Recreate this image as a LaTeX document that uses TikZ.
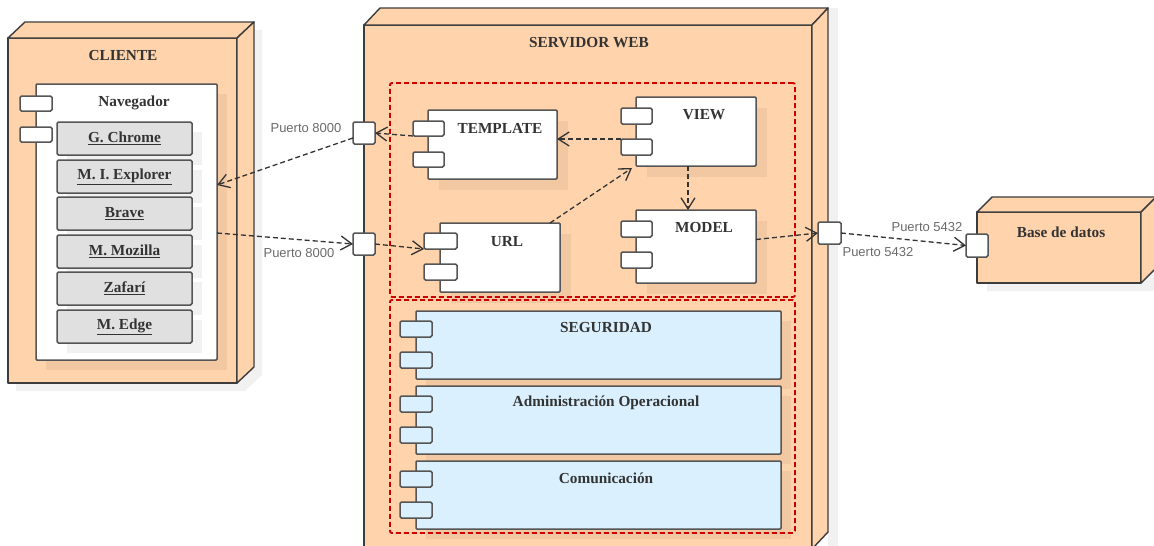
\documentclass[tikz,border=0pt]{standalone}
\usepackage{fontspec}
\setmainfont{Liberation Serif}
\newfontfamily\portfont{Liberation Sans}
\usetikzlibrary{arrows.meta,fit,calc}
\definecolor{peach}{HTML}{FFD4AC}
\definecolor{lblue}{HTML}{DAF0FE}
\definecolor{bgray}{HTML}{E0E0E0}
\definecolor{edgec}{HTML}{3C3C3C}
\definecolor{compedge}{HTML}{555555}
\definecolor{redd}{HTML}{CC0000}
\definecolor{txt}{HTML}{333333}
\definecolor{ptxt}{HTML}{6A6A6A}
\definecolor{connc}{HTML}{333333}
\tikzset{
  nodebox/.style={draw=edgec, line width=1.4pt, fill=peach, inner sep=0pt, outer sep=0pt, line join=round},
  facebox/.style={draw=edgec, line width=1.4pt, fill=peach, line join=round},
  comp/.style={draw=compedge, line width=1.5pt, fill=white, rounded corners=1pt, inner sep=0pt, outer sep=0pt},
  bcomp/.style={comp, fill=lblue},
  browser/.style={draw=compedge, line width=1.5pt, fill=bgray, rounded corners=1.5pt, inner sep=0pt, outer sep=0pt},
  portbox/.style={draw=compedge, line width=1.5pt, fill=white, rounded corners=1.5pt, inner sep=0pt, outer sep=0pt},
  redbox/.style={draw=redd, line width=1.9pt, dash pattern=on 5pt off 3pt, rounded corners=2pt, inner sep=0pt, outer sep=0pt},
  shade/.style={fill=black, fill opacity=0.055, draw=none},
  title/.style={text=txt, font=\fontsize{15.3}{18}\selectfont\bfseries, inner sep=0pt},
  blabel/.style={text=txt, font=\fontsize{15.3}{18}\selectfont\bfseries, inner sep=0pt},
  plabel/.style={text=ptxt, font=\portfont\fontsize{13}{15}\selectfont, inner sep=0pt},
  conn/.style={draw=connc, line width=1.3pt, dash pattern=on 5pt off 3pt, -{Straight Barb[length=11pt,width=14pt]}},
}
\begin{document}
\begin{tikzpicture}[x=1pt,y=-1pt]
\useasboundingbox (0,0) rectangle (1154,546);

% ================= CLIENTE =================
\fill[shade] (16,46) -- (33,30) -- (262,30) -- (262,375) -- (245,391) -- (16,391) -- cycle;
\node[nodebox, fit={(8,38)(237,383)}] (cliente) {};
\filldraw[facebox] (cliente.north west) -- ++(17,-16) -- ($(cliente.north east)+(17,-16)$) -- (cliente.north east) -- cycle;
\filldraw[facebox] (cliente.north east) -- ++(17,-16) -- ($(cliente.south east)+(17,-16)$) -- (cliente.south east) -- cycle;
\node[title] (clientet) at (123,56) {CLIENTE};

% Navegador component
\fill[shade] (46,94) rectangle (227,370);
\node[comp, fit={(36,84)(217,360)}] (nav) {};
\node[portbox, fit={(20,96)(52,111)}] (navp1) {};
\node[portbox, fit={(20,127)(52,142)}] (navp2) {};
\node[blabel] (navt) at (134,103) {Navegador};

\foreach \y/\nm/\lab in {122/b1/G. Chrome,160/b2/M. I. Explorer,197/b3/Brave,235/b4/M. Mozilla,272/b5/Zafarí,310/b6/M. Edge}{
  \fill[shade] (67,\y+10) rectangle (202,\y+43);
  \node[browser, fit={(57,\y)(192,\y+33)}] (\nm) {};
  \node[blabel] at (\nm.center) {\underline{\lab}};
}

% ================= SERVIDOR WEB =================
\fill[shade] (828,8) rectangle (838,546);
\node[nodebox, fit={(364,25)(812,549)}] (serv) {};
\filldraw[facebox] (serv.north west) -- ++(16,-17) -- ($(serv.north east)+(16,-17)$) -- (serv.north east) -- cycle;
\filldraw[facebox] (serv.north east) -- ++(16,-17) -- ($(serv.south east)+(16,-17)$) -- (serv.south east) -- cycle;
\node[title] (servt) at (589,43) {SERVIDOR WEB};

% TEMPLATE
\fill[shade] (439,121) rectangle (568,190);
\node[comp, fit={(428,110)(557,179)}] (template) {};
\node[portbox, fit={(413,121)(444,136)}] (tp1) {};
\node[portbox, fit={(413,152)(444,167)}] (tp2) {};
\node[blabel] (templatet) at (500,128) {TEMPLATE};

% URL
\fill[shade] (451,234) rectangle (571,303);
\node[comp, fit={(440,223)(560,292)}] (url) {};
\node[portbox, fit={(424,233)(457,249)}] (up1) {};
\node[portbox, fit={(424,264)(457,280)}] (up2) {};
\node[blabel] (urlt) at (507,242) {URL};

% VIEW
\fill[shade] (647,108) rectangle (767,177);
\node[comp, fit={(636,97)(756,166)}] (view) {};
\node[portbox, fit={(621,108)(652,124)}] (vp1) {};
\node[portbox, fit={(621,139)(652,155)}] (vp2) {};
\node[blabel] (viewt) at (704,115) {VIEW};

% MODEL
\fill[shade] (647,221) rectangle (767,294);
\node[comp, fit={(636,210)(756,283)}] (model) {};
\node[portbox, fit={(621,221)(652,237)}] (mp1) {};
\node[portbox, fit={(621,252)(652,268)}] (mp2) {};
\node[blabel] (modelt) at (704,228) {MODEL};

% lower components
\foreach \y/\nm/\lab in {311/seg/SEGURIDAD,386/adm/Administración Operacional,461/com/Comunicación}{
  \fill[shade] (426,\y+10) rectangle (791,\y+78);
  \node[bcomp, fit={(416,\y)(781,\y+68)}] (\nm) {};
  \node[portbox, fill=lblue, fit={(400,\y+10)(432,\y+26)}] (\nm p1) {};
  \node[portbox, fill=lblue, fit={(400,\y+41)(432,\y+57)}] (\nm p2) {};
  \node[blabel] at (606,\y+17) {\lab};
}

% red dashed groups
\node[redbox, fit={(390,83)(795,297)}] (mvc) {};
\node[redbox, fit={(390,300)(795,533)}] (svcs) {};

% ports on servidor
\node[portbox, fit={(353,122)(375,144)}] (p1) {};
\node[portbox, fit={(353,233)(375,255)}] (p2) {};
\node[portbox, fit={(818,222)(841,244)}] (p3) {};
\node[plabel] (p1t) at (306,128) {Puerto 8000};
\node[plabel] (p2t) at (299,253) {Puerto 8000};

% ================= BASE DE DATOS =================
\fill[shade] (987,220) -- (1002,205) -- (1154,205) -- (1154,291) -- (987,291) -- cycle;
\node[nodebox, fit={(977,212)(1141,283)}] (bd) {};
\filldraw[facebox] (bd.north west) -- ++(15,-15) -- ($(bd.north east)+(15,-15)$) -- (bd.north east) -- cycle;
\filldraw[facebox] (bd.north east) -- ++(15,-15) -- ($(bd.south east)+(15,-15)$) -- (bd.south east) -- cycle;
\node[blabel] (bdt) at (1061,232) {Base de datos};
\node[portbox, fit={(966,234)(988,257)}] (p4) {};
\node[plabel] (p3t) at (927,227) {Puerto 5432};
\node[plabel] (p4t) at (878,252) {Puerto 5432};

% ================= CONNECTORS =================
\coordinate (navin) at (217,185);
\coordinate (navout) at (217,233);
\draw[conn] (tp1.south west) -- (p1.east);
\draw[conn] ($(p1.west)+(0,5)$) -- (navin);
\draw[conn] (navout) -- (p2.west);
\draw[conn] (p2.east) -- (up1.south west);
\draw[conn] ($(url.north east)+(-10,0)$) -- ($(view.south west)+(-4,2)$);
\draw[conn] (vp2.north west) -- (template.east |- vp2.north west);
\draw[conn] ($(view.south)+(-8,0)$) -- ($(model.north)+(-8,0)$);
\draw[conn] ($(model.east)+(0,-7)$) -- (p3.west);
\draw[conn] (p3.east) -- (p4.west);
\end{tikzpicture}
\end{document}
